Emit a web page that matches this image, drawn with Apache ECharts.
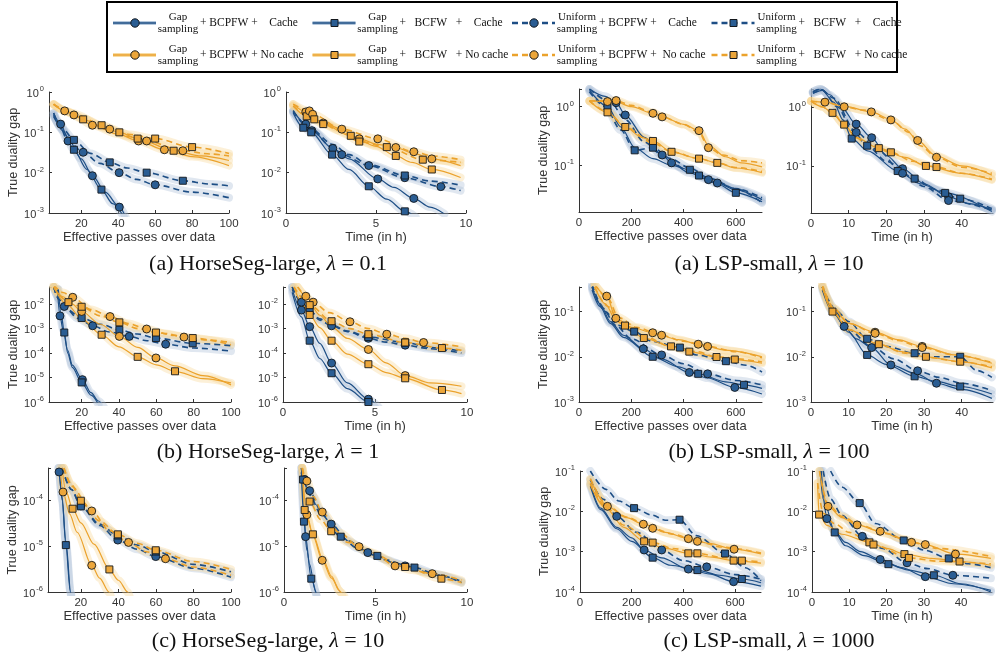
<!DOCTYPE html>
<html>
<head>
<meta charset="utf-8">
<script src="https://cdn.jsdelivr.net/npm/echarts@6/dist/echarts.min.js"></script>
<style>
  html, body { margin: 0; padding: 0; background: #fff; }
  #chart { width: 996px; height: 657px; }
</style>
</head>
<body>
<div id="chart"></div>
<script>
// curve order in every panel (same as the legend):
// Gap+BCPFW+Cache, Gap+BCFW+Cache, Uniform+BCPFW+Cache, Uniform+BCFW+Cache,
// Gap+BCPFW+No cache, Gap+BCFW+No cache, Uniform+BCPFW+No cache, Uniform+BCFW+No cache
// point = [x, gap] or [x, gap, 1] when a marker is drawn there

const legendSampling = ['Gap', 'Gap', 'Uniform', 'Uniform', 'Gap', 'Gap', 'Uniform', 'Uniform'];
const legendRest = ['+ BCPFW +    Cache', '+   BCFW   +    Cache', '+ BCPFW +    Cache', '+   BCFW   +    Cache',
                    '+ BCPFW + No cache', '+   BCFW   + No cache', '+ BCPFW +  No cache', '+   BCFW   + No cache'];

const hsPassTicks = [20, 40, 60, 80, 100];
const hsTimeTicks = [0, 5, 10];
const lspPassTicks = [0, 200, 400, 600];
const lspTimeTicks = [0, 10, 20, 30, 40];

// (a) HorseSeg-large, lambda = 0.1
const hsPassL01 = [
  [[5,0.3],[8.8,0.16,1],[12.8,0.07],[20,0.022],[26,0.0084,1],[33,0.0033],[40.6,0.0014,1],[44,0.0008]],
  [[5,0.27],[10,0.11],[16,0.037,1],[23,0.012],[30.9,0.0038,1],[37,0.0017],[43,0.0008]],
  [[5,0.3],[8,0.15],[12.8,0.061,1],[21,0.032,1],[30,0.017],[40.5,0.01,1],[50,0.0068],[60,0.005,1],[80,0.0033],[100,0.0024]],
  [[5,0.25],[10,0.12],[16,0.065,1],[25,0.03],[35.4,0.018,1],[45,0.013],[55.4,0.01,1],[75,0.0063,1],[90,0.0052],[100,0.0047]],
  [[5,0.5],[11,0.34,1],[16,0.27,1],[26,0.15,1],[40,0.09],[51,0.061,1],[65,0.037,1],[80,0.025],[100,0.015]],
  [[5,0.48],[12,0.33],[21,0.21,1],[31,0.14],[40.6,0.1,1],[50.5,0.07,1],[70,0.035,1],[85,0.026],[100,0.02]],
  [[5,0.5],[12,0.34],[20,0.23],[35.4,0.12,1],[45,0.08],[55.4,0.061,1],[75,0.035,1],[90,0.029],[100,0.026]],
  [[5,0.5],[15,0.3],[31,0.15,1],[45,0.09],[60,0.07,1],[80,0.043,1],[100,0.03]]
];
const hsTimeL01 = [
  [[0.4,0.35],[1.1,0.16,1],[1.44,0.11,1],[2.6,0.04,1],[3.5,0.022],[5.1,0.007,1],[6,0.0043],[7.1,0.0023,1],[8,0.0014],[8.8,0.00095]],
  [[0.4,0.3],[0.96,0.13,1],[1.4,0.1,1],[2.56,0.028,1],[3.5,0.012],[4.6,0.0046,1],[5.6,0.0022],[6.6,0.0011,1],[7.2,0.0008]],
  [[0.4,0.33],[1.44,0.11],[2.5,0.045],[3.1,0.028,1],[4.6,0.015,1],[6.6,0.0075,1],[8.6,0.0045,1],[9.7,0.0036]],
  [[0.4,0.33],[1.4,0.12],[2.6,0.05],[3.5,0.028],[4.6,0.016],[6.6,0.0085,1],[8,0.0062],[9.7,0.0049]],
  [[0.4,0.5],[1.1,0.32,1],[2.07,0.17,1],[3.1,0.12],[4.07,0.069,1],[5.1,0.05],[6.1,0.042,1],[7.1,0.03],[8.1,0.022,1],[9.7,0.015]],
  [[0.4,0.45],[1.15,0.25,1],[2.07,0.16,1],[3.6,0.082,1],[5,0.045],[6.1,0.026,1],[7,0.018],[8.1,0.012,1],[9.7,0.0076]],
  [[0.4,0.5],[1.3,0.34,1],[1.48,0.28,1],[3.1,0.12,1],[5.1,0.069,1],[7.1,0.033,1],[8.1,0.026],[9.7,0.021]],
  [[0.4,0.45],[1.57,0.21,1],[3,0.11],[4.07,0.059,1],[5.6,0.043,1],[7.6,0.021,1],[8.5,0.02],[9.7,0.018]]
];
// (a) LSP-small, lambda = 10
const lspPassL10 = [
  [[40,2.0],[100,1.5],[142,1.17,1],[177,0.72,1],[250,0.3],[318,0.15],[354,0.11],[420,0.075],[495,0.057,1],[529,0.05,1],[600,0.038],[700,0.026]],
  [[40,1.9],[109,1.0,1],[160,0.45],[213,0.2],[283,0.13],[354,0.1],[424,0.084,1],[459,0.067,1],[530,0.048],[600,0.034,1],[700,0.024]],
  [[40,2.0],[120,1.2],[177,0.6],[250,0.25],[318,0.15,1],[354,0.11,1],[420,0.08],[495,0.06],[600,0.04],[700,0.028]],
  [[40,1.8],[100,1.0],[160,0.4],[213,0.18,1],[283,0.2,1],[350,0.13],[424,0.09],[500,0.06],[600,0.04],[700,0.023]],
  [[40,1.25],[109,1.22,1],[142,1.2],[200,1.0],[283,0.77,1],[318,0.67],[400,0.5],[459,0.39,1],[495,0.22],[560,0.14],[620,0.11],[700,0.094]],
  [[40,1.25],[109,0.8,1],[177,0.45],[240,0.3],[283,0.26,1],[354,0.17],[459,0.13,1],[529,0.11],[600,0.09],[700,0.075]],
  [[40,1.25],[142,1.27,1],[200,1.05],[283,0.8],[318,0.67,1],[400,0.5],[460,0.36],[495,0.2,1],[550,0.15],[620,0.12],[700,0.11]],
  [[40,1.25],[109,0.82],[177,0.45,1],[283,0.24],[354,0.17,1],[459,0.13],[529,0.11,1],[600,0.092],[700,0.078]]
];
const lspTimeL10 = [
  [[0.5,1.8],[2.5,2.0],[5,1.6],[8,1.0],[12,0.51,1],[16.1,0.3,1],[20,0.15],[24.3,0.09,1],[30,0.05],[36.5,0.03,1],[42,0.023],[48,0.018]],
  [[0.5,1.7],[3,1.9],[6,1.2],[8.5,0.6],[10.8,0.29,1],[15,0.18],[23,0.082,1],[29,0.05],[35.6,0.035,1],[48,0.017]],
  [[0.5,1.8],[2.5,2.0],[6,1.4],[12,0.37,1],[18,0.18],[24.3,0.075,1],[30,0.045],[36.5,0.026,1],[48,0.018]],
  [[0.5,1.7],[3,1.9],[7,1.0],[11,0.4],[14.9,0.22,1],[20,0.12],[27.5,0.061,1],[33,0.04],[39.6,0.028,1],[48,0.019]],
  [[0,1.25],[3.7,1.2,1],[9,1.02],[16,0.82,1],[21,0.62],[25,0.42],[28.3,0.27,1],[33,0.15],[40,0.1],[48,0.07]],
  [[0,1.25],[3,1.0],[5.7,0.79,1],[8.8,0.5,1],[12,0.3],[18,0.2,1],[25,0.14],[30.5,0.1,1],[40,0.075],[48,0.058]],
  [[0,1.25],[4,1.18],[8.8,1.0,1],[14,0.88],[21.2,0.6,1],[26,0.37],[29,0.22],[33.3,0.14,1],[40,0.095],[48,0.075]],
  [[0,1.25],[3,1.0],[6,0.75],[9,0.48],[12,0.3],[14.9,0.23],[21.2,0.17,1],[27,0.12],[33.3,0.096,1],[40,0.075],[48,0.06]]
];
// (b) HorseSeg-large, lambda = 1
const hsPassL1 = [
  [[7,0.04],[8.4,0.0033,1],[10,0.0009],[12.5,0.00013],[15,3.2e-5],[20.4,8.2e-6,1],[25,2.4e-6],[29,1.1e-6],[32,6e-7]],
  [[7.5,0.04],[9,0.004],[10.7,0.00069,1],[12.5,0.0001],[15,2.6e-5],[20,6.3e-6,1],[25,1.9e-6],[29,8e-7]],
  [[5,0.05],[8,0.015],[10.7,0.008,1],[18,0.0026],[25.9,0.0013,1],[35,0.00072],[45.5,0.00048,1],[55,0.00032],[65,0.00023,1],[80,0.00016],[100,0.00012]],
  [[5,0.05],[8,0.015],[12,0.006],[20,0.0027,1],[30,0.0015],[40.2,0.00089,1],[50,0.0006],[59.8,0.00041,1],[79.5,0.00025,1],[100,0.0002]],
  [[5,0.05],[10,0.02],[15,0.01],[20,0.005,1],[30,0.0015],[40.2,0.00048,1],[50,0.00017],[59.8,6.3e-5,1],[70,3e-5],[85,1.2e-5],[100,5e-6]],
  [[5,0.05],[12,0.01],[20,0.0025],[30.7,0.00056,1],[40,0.00018],[50,7e-5,1],[60,3.3e-5],[70,1.8e-5,1],[85,9e-6],[100,6e-6]],
  [[5,0.06],[10,0.03],[15.2,0.019,1],[25,0.006],[35.2,0.0031,1],[45,0.0016],[54.8,0.00096,1],[65,0.00063],[74.8,0.00045,1],[88,0.00034],[100,0.00027]],
  [[5,0.05],[12.9,0.012,1],[20,0.0078,1],[30,0.0033],[40.2,0.0018,1],[50,0.001],[59.8,0.00069,1],[70,0.00052],[79.5,0.00041,1],[100,0.00022]]
];
const hsTimeL1 = [
  [[0.5,0.04],[1.0,0.0057,1],[1.45,0.0012,1],[2,0.00025],[2.64,3.9e-5,1],[3.5,6e-6],[4.64,1.3e-6,1],[5.2,6e-7]],
  [[0.5,0.03],[1.0,0.003],[1.45,0.00032,1],[2,6e-5],[2.64,1.5e-5,1],[3.5,3.5e-6],[4.64,1e-6,1],[5,6e-7]],
  [[0.5,0.05],[1.0,0.012,1],[1.5,0.005],[2,0.0022],[2.64,0.0013,1],[3.5,0.00075],[4.64,0.0004,1],[5.6,0.00028],[6.64,0.00021,1],[8,0.00015],[9.7,0.0001]],
  [[0.5,0.05],[1.0,0.012],[1.45,0.0056,1],[2,0.0025],[2.64,0.0014],[3.5,0.0008],[4.64,0.00045,1],[6.64,0.00027,1],[8,0.00017],[9.7,0.00012]],
  [[0.8,0.05],[1.24,0.021,1],[2,0.0035],[2.64,0.0012],[3.5,0.0004],[4.64,0.00014,1],[5.6,4e-5],[6.64,1.2e-5,1],[8,6e-6],[9.7,4.4e-6]],
  [[0.6,0.05],[1.0,0.012],[1.45,0.0036,1],[2,0.0011],[2.64,0.00032,1],[3.5,9e-5],[4.64,3.5e-5,1],[5.6,1.6e-5],[6.64,9.3e-6,1],[8.64,3.1e-6,1],[9.7,2.2e-6]],
  [[0.8,0.05],[1.64,0.012,1],[2.5,0.0045],[3.64,0.0019,1],[4.64,0.001],[5.64,0.00059,1],[6.64,0.0004],[7.64,0.00027,1],[9.7,0.00018]],
  [[0.6,0.05],[1.45,0.0091,1],[2.64,0.002,1],[3.64,0.001],[4.64,0.00059,1],[6.64,0.00027,1],[8.64,0.00016,1],[9.7,0.00013]]
];
// (b) LSP-small, lambda = 100
const lspPassL100 = [
  [[50,0.35],[80,0.15],[120,0.06],[170,0.03],[246,0.015,1],[316,0.009],[422,0.0045,1],[492,0.0034],[596,0.0021,1],[700,0.0015]],
  [[50,0.3],[80,0.13],[120,0.055],[170,0.027],[282,0.01,1],[380,0.006],[456,0.0042,1],[560,0.0028],[631,0.0024,1],[700,0.002]],
  [[50,0.35],[90,0.12],[140,0.05],[200,0.025],[316,0.011,1],[400,0.007],[492,0.0042,1],[600,0.003],[700,0.0024]],
  [[50,0.4],[100,0.1],[150,0.05],[211,0.036,1],[280,0.022],[386,0.016,1],[450,0.011],[562,0.008,1],[640,0.0065],[700,0.0046]],
  [[60,0.4],[106,0.22,1],[141,0.071,1],[200,0.045],[282,0.034,1],[380,0.024],[456,0.019,1],[560,0.014],[700,0.01]],
  [[60,0.35],[100,0.15],[141,0.065],[176,0.049,1],[248,0.026,1],[352,0.017],[422,0.013,1],[526,0.01],[596,0.0087,1],[700,0.0072]],
  [[60,0.4],[110,0.2],[150,0.075],[220,0.045],[316,0.03,1],[400,0.022],[492,0.017,1],[600,0.013],[700,0.0095]],
  [[60,0.35],[110,0.13],[160,0.055],[250,0.028],[352,0.017,1],[450,0.013],[526,0.0099,1],[700,0.0077]]
];
const lspTimeL100 = [
  [[3,0.35],[6,0.1],[8.8,0.047,1],[12,0.025],[16.1,0.016,1],[21.2,0.0066,1],[28,0.0042],[33.3,0.0026,1],[40,0.0019],[48,0.0012]],
  [[3,0.3],[6,0.09],[10,0.035],[14.9,0.011,1],[20,0.0068],[27.5,0.0037,1],[33,0.0029],[39.6,0.0022,1],[48,0.0015]],
  [[3,0.35],[6,0.11],[10,0.04],[16,0.017],[22,0.009],[28.3,0.0049,1],[34,0.0035],[40,0.0026],[48,0.0018]],
  [[3,0.35],[7,0.1],[10,0.06],[14.9,0.025,1],[20,0.017],[27.5,0.012,1],[33,0.01],[39.6,0.01,1],[44,0.005],[48,0.0035]],
  [[3,0.4],[5.7,0.12],[10,0.055],[17,0.035,1],[23,0.024],[29.5,0.017,1],[38,0.011],[48,0.0072]],
  [[3,0.35],[5.7,0.1,1],[10,0.04],[18,0.019,1],[24,0.013],[30.5,0.01,1],[39.6,0.0078,1],[48,0.0057]],
  [[3,0.4],[6,0.12],[10,0.055],[17,0.033,1],[23,0.023],[29.5,0.016,1],[38,0.011],[48,0.0075]],
  [[3,0.35],[6,0.095],[10,0.04],[18,0.019],[25,0.012],[32,0.0095],[40,0.0077],[48,0.006]]
];
// (c) HorseSeg-large, lambda = 10
const hsPassL10 = [
  [[8,0.0005],[8.4,0.00041,1],[10,0.0001],[12,1.3e-5],[14.6,1e-6],[15.5,5e-7]],
  [[8.3,0.0005],[10,0.00012],[12,1.05e-5,1],[14.4,1e-6],[15.3,5e-7]],
  [[10,0.0005],[15,0.00017],[20,7.5e-5,1],[30,2.8e-5],[39.7,1.35e-5,1],[50,8.5e-6],[59.9,5.9e-6,1],[80,3.3e-6],[100,2.1e-6]],
  [[10,0.0005],[15,0.00017],[20,7.3e-5,1],[30,3e-5],[39.7,1.7e-5,1],[50,1.05e-5],[59.9,7.6e-6,1],[80,4e-6],[100,2.75e-6]],
  [[9,0.0005],[10.5,0.00015,1],[14,5e-5],[18,2e-5],[25.8,3.8e-6,1],[30,2e-6],[35,1e-6],[36,8e-7]],
  [[10,0.0005],[12,0.00016],[15.6,6.5e-5,1],[20,3.2e-5],[27,1.1e-5],[35.2,3.1e-6,1],[40,1.8e-6],[45,1e-6],[46,8e-7]],
  [[11,0.0005],[15,0.0002],[25.8,5.8e-5,1],[35,2.2e-5],[45.4,1.2e-5,1],[55,7.5e-6],[65.1,5.3e-6,1],[80,3.5e-6],[100,2.3e-6]],
  [[11,0.0005],[15,0.00022],[20,9.7e-5,1],[30,3.5e-5],[39.7,1.8e-5,1],[50,1.15e-5],[59.9,8.1e-6,1],[80,4.6e-6],[100,3.1e-6]]
];
const hsTimeL10 = [
  [[0.95,0.0005],[1.1,6e-5],[1.18,1.6e-5,1],[1.4,4e-6],[1.7,1.1e-6],[1.8,8e-7]],
  [[0.95,0.0004],[1.09,3.4e-5,1],[1.25,8e-6],[1.49,1.95e-6,1],[1.75,9e-7]],
  [[0.95,0.0005],[1.13,0.00028,1],[1.4,0.00016,1],[2,6e-5],[2.58,3e-5,1],[3.5,1.3e-5],[4.58,7.2e-6,1],[5.6,5e-6],[6.62,3.7e-6,1],[8,2.6e-6],[9.7,1.6e-6]],
  [[0.95,0.0004],[1.04,0.00028,1],[1.4,0.00013],[2,5e-5],[3.1,1.6e-5,1],[4,9e-6],[5.1,6.1e-6,1],[6,4.3e-6],[7.13,3.4e-6,1],[8.5,2.3e-6],[9.7,1.7e-6]],
  [[1.0,0.0005],[1.25,4.8e-5,1],[1.6,1.6e-5],[2.09,4.9e-6,1],[2.6,2e-6],[3.1,1e-6],[3.3,8e-7]],
  [[1.0,0.0005],[1.13,6.1e-5,1],[1.58,1.8e-5,1],[2.1,5.5e-6],[2.6,2.2e-6],[3.0,1.1e-6],[3.2,8e-7]],
  [[1.0,0.0005],[1.25,0.00026,1],[1.6,0.00012],[2.09,5.5e-5,1],[3,2e-5],[4.1,9.7e-6,1],[5,6.5e-6],[6.07,3.7e-6,1],[7,3e-6],[8.1,2.5e-6,1],[9.7,1.8e-6]],
  [[1.0,0.0005],[1.4,9.3e-5,1],[2,3.8e-5],[2.58,2.1e-5,1],[3.5,1.2e-5],[4.6,7.5e-6],[6.62,3.5e-6,1],[8.6,1.95e-6,1],[9.7,1.6e-6]]
];
// (c) LSP-small, lambda = 1000
const lspPassL1000 = [
  [[40,0.048],[80,0.012],[142,0.004],[200,0.0022],[248,0.0011,1],[316,0.0007],[419,0.00037,1],[500,0.00028],[594,0.00018,1],[700,0.00014]],
  [[40,0.042],[80,0.011],[142,0.0037],[200,0.0018],[281,0.00071,1],[350,0.00046],[454,0.00035,1],[540,0.00026],[626,0.00021,1],[700,0.00017]],
  [[40,0.06],[90,0.02],[142,0.0075,1],[220,0.003],[316,0.0011,1],[400,0.0006],[490,0.00042,1],[600,0.00027],[700,0.00021]],
  [[40,0.1],[100,0.035],[150,0.018],[209,0.012,1],[280,0.008],[330,0.006],[385,0.0062,1],[450,0.0025],[561,0.0009,1],[640,0.0004],[700,0.00019]],
  [[40,0.062],[106,0.0133,1],[180,0.007],[245,0.0048,1],[330,0.003],[419,0.0021,1],[500,0.0016],[596,0.00115,1],[700,0.00088]],
  [[40,0.045],[100,0.012],[170,0.004],[248,0.0018,1],[330,0.0012],[419,0.00091,1],[510,0.00073],[594,0.0006,1],[700,0.00052]],
  [[40,0.065],[106,0.014],[180,0.0072],[281,0.0038,1],[360,0.0027],[454,0.0018,1],[550,0.0013],[700,0.00092]],
  [[40,0.05],[100,0.013],[170,0.0045],[281,0.00168,1],[360,0.0012],[454,0.00091,1],[550,0.00072],[626,0.0006,1],[700,0.00056]]
];
const lspTimeL1000 = [
  [[2.2,0.1],[3,0.02],[4,0.0066,1],[6,0.0033],[9,0.0017],[13,0.001],[18.3,0.00064,1],[24,0.0004],[30.4,0.00024,1],[38,0.00016],[48,0.00011]],
  [[2.5,0.1],[3.5,0.015],[6.1,0.003,1],[9,0.0014],[14,0.0008],[20.5,0.00049,1],[26,0.00035],[32.7,0.00026,1],[40,0.00016],[48,0.0001]],
  [[3,0.1],[5,0.02],[8,0.008],[13.5,0.0024,1],[19,0.0012],[25.5,0.00053,1],[31,0.00038],[37.8,0.00026,1],[48,0.00022]],
  [[5,0.1],[8,0.04],[12.8,0.016,1],[17,0.005],[24.6,0.0019,1],[30,0.0011],[36.7,0.00068,1],[42,0.0005],[48,0.0004]],
  [[2,0.1],[4.3,0.0133,1],[8,0.007],[12.1,0.0046,1],[18.3,0.0032,1],[24,0.0021],[30.4,0.0015,1],[38.5,0.00087,1],[48,0.00068]],
  [[1.5,0.05],[1.9,0.0083,1],[4,0.0045],[8,0.0027],[15.4,0.0017,1],[20,0.0012],[24.8,0.00087,1],[32,0.00068],[39.6,0.00057,1],[48,0.00046]],
  [[2,0.1],[4.3,0.015],[8,0.0075],[13,0.0045],[20,0.0028],[26.7,0.0017,1],[34,0.0012],[48,0.00076]],
  [[1.5,0.05],[3,0.009],[6,0.005],[10,0.003],[16.5,0.0015,1],[26,0.0007,1],[34,0.00058],[48,0.0005]]
];

const PASS = 'Effective passes over data';
const TIME = 'Time (in h)';
const panels = [
  { curves: hsPassL01,   rect: [49, 92, 180, 121],  x: [2.5, 100], ticks: hsPassTicks,  y: [1e-3, 1],     xName: PASS, yGap: 29 },
  { curves: hsTimeL01,   rect: [286, 92, 180, 121], x: [0, 10],    ticks: hsTimeTicks,  y: [1e-3, 1],     xName: TIME },
  { curves: lspPassL10,  rect: [579, 89, 183, 123], x: [0, 700],   ticks: lspPassTicks, y: [0.016, 2],    xName: PASS, yGap: 25 },
  { curves: lspTimeL10,  rect: [811, 89, 182, 124], x: [0, 48.3],  ticks: lspTimeTicks, y: [0.016, 2],    xName: TIME },
  { curves: hsPassL1,    rect: [49, 287, 182, 115], x: [2.5, 100], ticks: hsPassTicks,  y: [1e-6, 0.05],  xName: PASS, yGap: 29 },
  { curves: hsTimeL1,    rect: [283, 287, 184, 115],x: [0, 10],    ticks: hsTimeTicks,  y: [1e-6, 0.05],  xName: TIME },
  { curves: lspPassL100, rect: [579, 287, 183, 115],x: [0, 700],   ticks: lspPassTicks, y: [1e-3, 0.35],  xName: PASS, yGap: 25 },
  { curves: lspTimeL100, rect: [811, 287, 182, 115],x: [0, 48.3],  ticks: lspTimeTicks, y: [1e-3, 0.35],  xName: TIME },
  { curves: hsPassL10,   rect: [48, 468, 183, 124], x: [2.5, 100], ticks: hsPassTicks,  y: [1e-6, 5e-4],  xName: PASS, yGap: 29 },
  { curves: hsTimeL10,   rect: [284, 468, 183, 124],x: [0, 10],    ticks: hsTimeTicks,  y: [1e-6, 5e-4],  xName: TIME },
  { curves: lspPassL1000,rect: [580, 471, 181, 121],x: [0, 700],   ticks: lspPassTicks, y: [1e-4, 0.1],   xName: PASS, yGap: 25 },
  { curves: lspTimeL1000,rect: [812, 471, 180, 121],x: [0, 48.3],  ticks: lspTimeTicks, y: [1e-4, 0.1],   xName: TIME }
];

const subtitles = [
  ['(a) HorseSeg-large, {i|λ} = 0.1', 268, 264], ['(a) LSP-small, {i|λ} = 10', 769, 264],
  ['(b) HorseSeg-large, {i|λ} = 1', 268, 452],   ['(b) LSP-small, {i|λ} = 100', 769, 452],
  ['(c) HorseSeg-large, {i|λ} = 10', 268, 641],  ['(c) LSP-small, {i|λ} = 1000', 769, 641]
];

const BLUE = '#1d4e85', ORANGE = '#eba22c';
const BLUE_BAND = '#a3bad3', ORANGE_BAND = '#f6d38c';
const SANS = 'Liberation Sans';
const SERIF = 'Liberation Serif';

function curveStyle(i) {
  const cache = i < 4;
  return {
    color: cache ? BLUE : ORANGE,
    band: cache ? BLUE_BAND : ORANGE_BAND,
    fill: cache ? '#2a5d93' : '#eca63a',
    dashed: i % 4 >= 2,
    symbol: i % 2 ? 'rect' : 'circle'
  };
}

function pow10(v) {
  const e = Math.log10(v);
  const r = Math.round(e);
  if (Math.abs(e - r) > 1e-6) return '';
  return '{b|10}{s|' + r + '}';
}

const chart = echarts.init(document.getElementById('chart'));

const grid = [], xAxis = [], yAxis = [], series = [];
panels.forEach((p, pi) => {
  grid.push({ left: p.rect[0], top: p.rect[1], width: p.rect[2], height: p.rect[3] });
  xAxis.push({
    gridIndex: pi, type: 'value', min: p.x[0], max: p.x[1],
    name: p.xName, nameLocation: 'middle', nameGap: 16,
    nameTextStyle: { fontFamily: SANS, fontSize: 13, color: '#333' },
    axisLine: { lineStyle: { color: '#333', width: 1 } },
    axisTick: { inside: true, length: 3, customValues: p.ticks, lineStyle: { color: '#333' } },
    axisLabel: { customValues: p.ticks, fontFamily: SANS, fontSize: 11.5, color: '#333', margin: 5 },
    splitLine: { show: false }
  });
  yAxis.push({
    gridIndex: pi, type: 'log', logBase: 10, min: p.y[0], max: p.y[1],
    name: p.yGap ? 'True duality gap' : '', nameLocation: 'middle', nameGap: p.yGap || 0,
    nameTextStyle: { fontFamily: SANS, fontSize: 12.5, color: '#333' },
    axisLine: { show: true, lineStyle: { color: '#333', width: 1 } },
    axisTick: { inside: true, length: 3, lineStyle: { color: '#333' } },
    axisLabel: {
      formatter: pow10, margin: 5,
      rich: {
        b: { fontFamily: SANS, fontSize: 11, color: '#333', verticalAlign: 'bottom' },
        s: { fontFamily: SANS, fontSize: 7.5, color: '#333', verticalAlign: 'bottom', padding: [0, 0, 6, 1] }
      }
    },
    splitLine: { show: false }
  });

  // shaded spread, drawn under all lines
  p.curves.forEach((c, ci) => {
    const st = curveStyle(ci);
    series.push({
      type: 'line', xAxisIndex: pi, yAxisIndex: pi, silent: true, z: 1,
      data: c.map(d => [d[0], d[1]]),
      smooth: 0.3, smoothMonotone: 'x', symbol: 'none',
      lineStyle: { color: st.band, width: 8, opacity: 0.34, cap: 'round', join: 'round' }
    });
  });
  p.curves.forEach((c, ci) => {
    const st = curveStyle(ci);
    series.push({
      name: legendSampling[ci] + ' sampling ' + legendRest[ci].replace(/\s+/g, ' '),
      type: 'line', xAxisIndex: pi, yAxisIndex: pi, z: 2,
      data: c,
      smooth: 0.3, smoothMonotone: 'x',
      showSymbol: true, showAllSymbol: true,
      symbol: v => (v[2] ? st.symbol : 'none'),
      symbolSize: st.symbol === 'rect' ? 7 : 8,
      itemStyle: { color: st.fill, borderColor: '#14181d', borderWidth: 0.9 },
      lineStyle: { color: st.color, width: st.dashed ? 1.6 : 1.2, type: st.dashed ? [6, 4] : 'solid' }
    });
  });
});

// legend box drawn as graphics
const graphic = [{
  type: 'rect', shape: { x: 107, y: 2, width: 790, height: 70 },
  style: { fill: '#fff', stroke: '#000', lineWidth: 2 }, z: 10
}];
legendSampling.forEach((s, i) => {
  const st = curveStyle(i);
  const x0 = 113 + (i % 4) * 199.5;
  const y0 = 23 + Math.floor(i / 4) * 32;
  if (!st.dashed) {
    graphic.push({ type: 'line', shape: { x1: x0, y1: y0, x2: x0 + 43, y2: y0 },
      style: { stroke: st.band, lineWidth: 4, opacity: 0.8 }, z: 11 });
  }
  graphic.push({ type: 'line', shape: { x1: x0, y1: y0, x2: x0 + 43, y2: y0 },
    style: { stroke: st.color, lineWidth: st.dashed ? 2.4 : 1.3, lineDash: st.dashed ? [6, 4] : null }, z: 11 });
  if (st.symbol === 'circle') {
    graphic.push({ type: 'circle', shape: { cx: x0 + 22, cy: y0, r: 4.2 },
      style: { fill: st.fill, stroke: '#14181d', lineWidth: 1 }, z: 12 });
  } else {
    graphic.push({ type: 'rect', shape: { x: x0 + 18.5, y: y0 - 3.5, width: 7, height: 7 },
      style: { fill: st.fill, stroke: '#14181d', lineWidth: 1 }, z: 12 });
  }
  graphic.push({ type: 'text', z: 12, style: { text: s, x: x0 + 65, y: y0 - 6, textAlign: 'center', textVerticalAlign: 'middle',
    fontFamily: SERIF, fontSize: 11, fill: '#111' } });
  graphic.push({ type: 'text', z: 12, style: { text: 'sampling', x: x0 + 65, y: y0 + 6, textAlign: 'center', textVerticalAlign: 'middle',
    fontFamily: SERIF, fontSize: 11, fill: '#111' } });
  graphic.push({ type: 'text', z: 12, style: { text: legendRest[i], x: x0 + 87, y: y0, textAlign: 'left', textVerticalAlign: 'middle',
    fontFamily: SERIF, fontSize: 11.5, fill: '#111' } });
});
subtitles.forEach(t => {
  graphic.push({ type: 'text', z: 10, style: {
    text: t[0], x: t[1], y: t[2], textAlign: 'center', textVerticalAlign: 'middle',
    fontFamily: SERIF, fontSize: 22, fill: '#111',
    rich: { i: { fontFamily: SERIF, fontSize: 22, fontStyle: 'italic', fill: '#111' } }
  } });
});

chart.setOption({
  animation: false,
  backgroundColor: '#fff',
  grid, xAxis, yAxis, series, graphic
});
</script>
</body>
</html>
